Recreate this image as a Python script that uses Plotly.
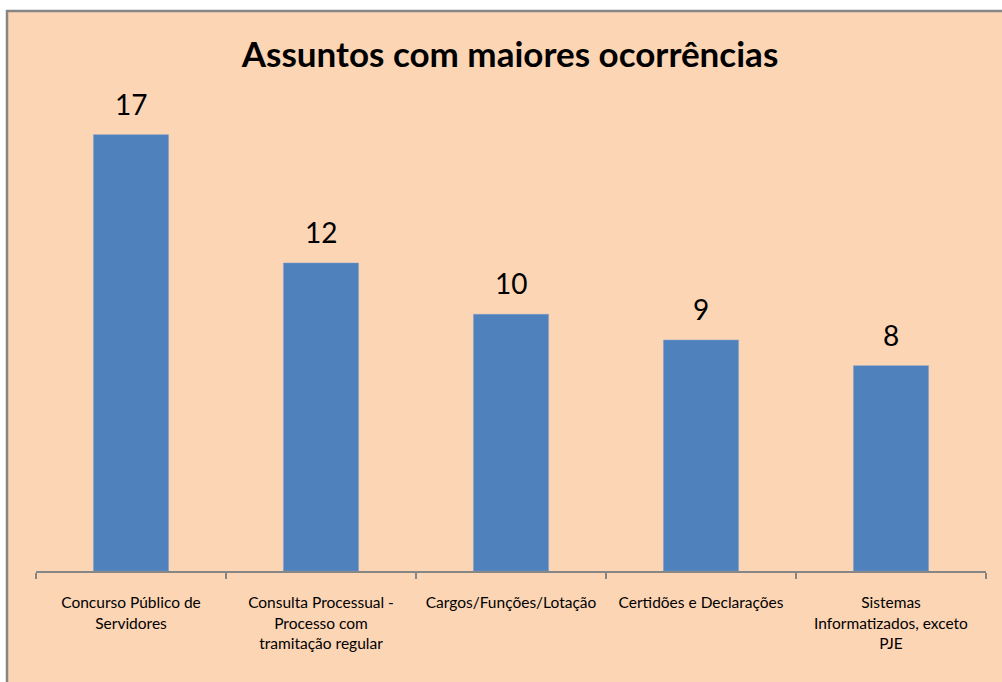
import plotly.graph_objects as go

# data
categories = [
    "Concurso Público de<br>Servidores",
    "Consulta Processual -<br>Processo com<br>tramitação regular",
    "Cargos/Funções/Lotação",
    "Certidões e Declarações",
    "Sistemas<br>Informatizados, exceto<br>PJE",
]
values = [17, 12, 10, 9, 8]

TITLE = "Assuntos com maiores ocorrências"
BAR_COLOR = "#4F81BD"
BG = "#FCD5B5"
AXIS_GRAY = "#868686"
FONT = "Lato, 'Open Sans', sans-serif"

W, H = 1002, 682
L, R, T, B = 36, 16, 109, 111
pw, ph = W - L - R, H - T - B

fig = go.Figure(go.Bar(
    x=categories,
    y=values,
    marker=dict(color=BAR_COLOR, line=dict(color="#7A9CCB", width=0.5)),
    width=0.395,
    hoverinfo="x+y",
))

# value labels sitting above each bar
for c, v in zip(categories, values):
    fig.add_annotation(x=c, y=v, text=str(v), showarrow=False,
                       yanchor="bottom", yshift=12,
                       font=dict(size=28, color="black", family=FONT))

# chart area box (peach with grey border, cut at right/bottom)
def px_to_paper_x(px):
    return (px - L) / pw

def px_to_paper_y(py):
    return (H - B - py) / ph

fig.add_shape(type="rect", xref="paper", yref="paper", layer="below",
              x0=px_to_paper_x(7), x1=px_to_paper_x(1012),
              y0=px_to_paper_y(692), y1=px_to_paper_y(11),
              fillcolor=BG, line=dict(color=AXIS_GRAY, width=2.5))

fig.update_layout(
    width=W, height=H,
    margin=dict(l=L, r=R, t=T, b=B),
    paper_bgcolor="white",
    plot_bgcolor="rgba(0,0,0,0)",
    showlegend=False,
    title=dict(text=f"<b>{TITLE}</b>", x=510 / W, xanchor="center",
               y=1 - 55 / H, yanchor="middle",
               font=dict(size=35, color="black", family=FONT)),
    font=dict(family=FONT, color="black"),
)

fig.update_xaxes(
    showline=True, linecolor=AXIS_GRAY, linewidth=1.5,
    ticks="outside", tickson="boundaries", ticklen=6,
    tickcolor=AXIS_GRAY, tickwidth=1.5,
    tickfont=dict(size=15.5, color="black", family=FONT),
    ticklabelstandoff=17,
    showgrid=False, tickangle=0,
)
fig.update_yaxes(range=[0, 18], visible=False, showgrid=False)

# drop the default page margin so the figure sits at the window origin
fig.write_html("out.html", config={"displayModeBar": False},
               post_script="document.body.style.margin='0px';")
